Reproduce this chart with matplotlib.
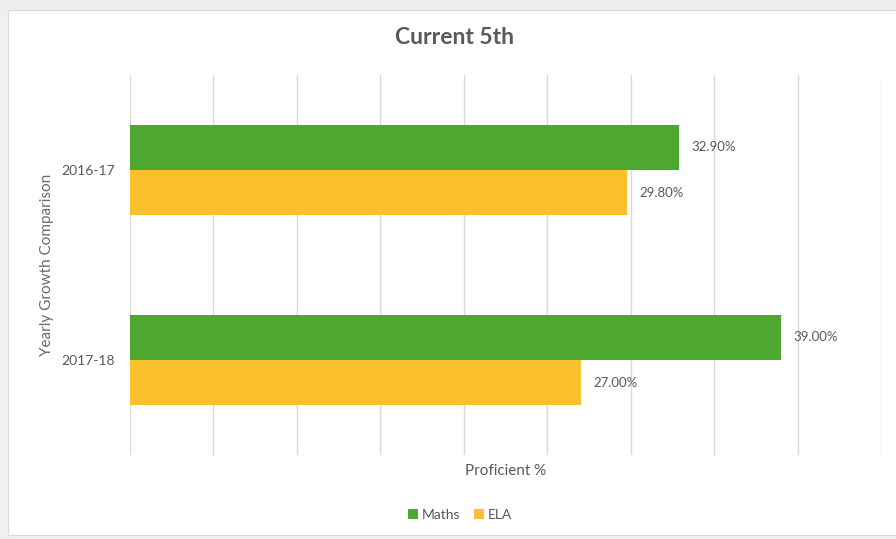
import matplotlib.pyplot as plt
import numpy as np
from matplotlib.patches import Rectangle

# podaci
godine = ['2016-17', '2017-18']
maths = [32.9, 39.0]
ela = [29.8, 27.0]

zelena = '#4ea72e'
zuta = '#fbc02d'
siva = '#595959'

plt.rcParams['font.family'] = ['Lato', 'DejaVu Sans']

fig = plt.figure(figsize=(8.96, 5.39), dpi=100)
fig.patch.set_facecolor('#efefef')
# bijela pozadina grafa (kao okvir u Excelu)
fig.patches.append(Rectangle((8/896, 4/539), 1, 525/539, transform=fig.transFigure,
                             facecolor='white', edgecolor='#d9d9d9', lw=0.8, zorder=-10))

ax = fig.add_axes([130/896, 84/539, 751/896, 380/539])
ax.set_facecolor('none')
ax.set_zorder(5)

y = np.arange(len(godine))
h = 0.237
b1 = ax.barh(y - h/2, maths, height=h, color=zelena, label='Maths', zorder=3)
b2 = ax.barh(y + h/2, ela, height=h, color=zuta, label='ELA', zorder=3)

for bars in (b1, b2):
    for b in bars:
        ax.annotate('%.2f%%' % b.get_width(), (b.get_width(), b.get_y() + b.get_height()/2),
                    xytext=(9, 0), textcoords='offset points', va='center', ha='left',
                    fontsize=9.5, color=siva)

ax.set_xlim(0, 45)
ax.set_ylim(1.5, -0.5)
ax.set_xticks(np.arange(0, 46, 5))
ax.set_xticklabels([])
ax.tick_params(axis='x', length=0)
ax.tick_params(axis='y', length=0, labelsize=10, labelcolor=siva, pad=11)
ax.set_yticks(y)
ax.set_yticklabels(godine)
ax.grid(axis='x', color='#d9d9d9', lw=1, zorder=0)
for s in ax.spines.values():
    s.set_visible(False)

ax.set_xlabel('Proficient %', fontsize=11, color=siva, labelpad=3)
ax.set_ylabel('Yearly Growth Comparison', fontsize=11, color='#6a6a6a', labelpad=5)
fig.text(454/896, 1 - 38/539, 'Current 5th', ha='center', va='center',
         fontsize=16.5, fontweight='bold', color=siva)

fig.legend(loc='center', bbox_to_anchor=(460/896, 1 - 515/539), ncol=2, frameon=False,
           fontsize=10, handlelength=0.7, handleheight=0.7, handletextpad=0.3,
           columnspacing=1.0, labelcolor=siva)

plt.savefig('out.png', dpi=100, facecolor=fig.get_facecolor())
